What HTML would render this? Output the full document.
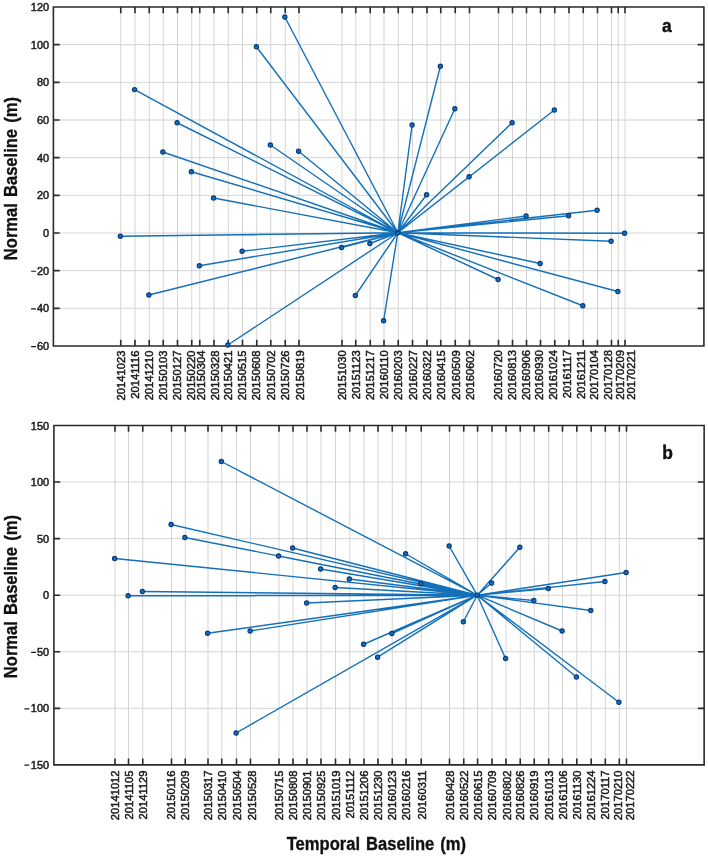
<!DOCTYPE html>
<html><head><meta charset="utf-8"><title>Baseline plots</title>
<style>
html,body{margin:0;padding:0;background:#fff;}
body{width:708px;height:857px;overflow:hidden;font-family:"Liberation Sans",sans-serif;}
svg{display:block;will-change:transform;}
</style></head><body>
<svg width="708" height="857" viewBox="0 0 708 857" font-family="'Liberation Sans', sans-serif">
<rect width="708" height="857" fill="#fff"/>
<path d="M120.75 7.00V346.00M135.00 7.00V346.00M149.25 7.00V346.00M163.25 7.00V346.00M177.50 7.00V346.00M191.75 7.00V346.00M199.75 7.00V346.00M214.00 7.00V346.00M228.25 7.00V346.00M242.50 7.00V346.00M256.75 7.00V346.00M270.75 7.00V346.00M285.25 7.00V346.00M299.00 7.00V346.00M342.00 7.00V346.00M355.75 7.00V346.00M370.25 7.00V346.00M384.00 7.00V346.00M398.25 7.00V346.00M412.50 7.00V346.00M427.00 7.00V346.00M440.75 7.00V346.00M455.25 7.00V346.00M469.50 7.00V346.00M498.50 7.00V346.00M512.50 7.00V346.00M526.50 7.00V346.00M540.50 7.00V346.00M554.75 7.00V346.00M569.00 7.00V346.00M583.25 7.00V346.00M597.50 7.00V346.00M611.50 7.00V346.00M618.25 7.00V346.00M625.00 7.00V346.00M53.40 44.67H703.90M53.40 82.33H703.90M53.40 120.00H703.90M53.40 157.67H703.90M53.40 195.33H703.90M53.40 233.00H703.90M53.40 270.67H703.90M53.40 308.33H703.90" stroke="#d4d4d4" stroke-width="1" fill="none"/>
<path d="M53.40 7.00H703.90V346.00H53.40ZM120.75 346.00v-6.3M120.75 7.00v6.3M135.00 346.00v-6.3M135.00 7.00v6.3M149.25 346.00v-6.3M149.25 7.00v6.3M163.25 346.00v-6.3M163.25 7.00v6.3M177.50 346.00v-6.3M177.50 7.00v6.3M191.75 346.00v-6.3M191.75 7.00v6.3M199.75 346.00v-6.3M199.75 7.00v6.3M214.00 346.00v-6.3M214.00 7.00v6.3M228.25 346.00v-6.3M228.25 7.00v6.3M242.50 346.00v-6.3M242.50 7.00v6.3M256.75 346.00v-6.3M256.75 7.00v6.3M270.75 346.00v-6.3M270.75 7.00v6.3M285.25 346.00v-6.3M285.25 7.00v6.3M299.00 346.00v-6.3M299.00 7.00v6.3M342.00 346.00v-6.3M342.00 7.00v6.3M355.75 346.00v-6.3M355.75 7.00v6.3M370.25 346.00v-6.3M370.25 7.00v6.3M384.00 346.00v-6.3M384.00 7.00v6.3M398.25 346.00v-6.3M398.25 7.00v6.3M412.50 346.00v-6.3M412.50 7.00v6.3M427.00 346.00v-6.3M427.00 7.00v6.3M440.75 346.00v-6.3M440.75 7.00v6.3M455.25 346.00v-6.3M455.25 7.00v6.3M469.50 346.00v-6.3M469.50 7.00v6.3M498.50 346.00v-6.3M498.50 7.00v6.3M512.50 346.00v-6.3M512.50 7.00v6.3M526.50 346.00v-6.3M526.50 7.00v6.3M540.50 346.00v-6.3M540.50 7.00v6.3M554.75 346.00v-6.3M554.75 7.00v6.3M569.00 346.00v-6.3M569.00 7.00v6.3M583.25 346.00v-6.3M583.25 7.00v6.3M597.50 346.00v-6.3M597.50 7.00v6.3M611.50 346.00v-6.3M611.50 7.00v6.3M618.25 346.00v-6.3M618.25 7.00v6.3M625.00 346.00v-6.3M625.00 7.00v6.3M53.40 44.67h6.3M703.90 44.67h-6.3M53.40 82.33h6.3M703.90 82.33h-6.3M53.40 120.00h6.3M703.90 120.00h-6.3M53.40 157.67h6.3M703.90 157.67h-6.3M53.40 195.33h6.3M703.90 195.33h-6.3M53.40 233.00h6.3M703.90 233.00h-6.3M53.40 270.67h6.3M703.90 270.67h-6.3M53.40 308.33h6.3M703.90 308.33h-6.3" stroke="#2a2a2a" stroke-width="1.6" fill="none" stroke-linejoin="miter"/>
<path d="M397.85 232.75L120.35 236.25M397.85 232.75L134.60 89.60M397.85 232.75L148.85 295.00M397.85 232.75L162.85 152.00M397.85 232.75L177.10 122.75M397.85 232.75L191.35 171.75M397.85 232.75L199.35 265.75M397.85 232.75L213.60 198.00M397.85 232.75L227.85 345.00M397.85 232.75L242.10 251.25M397.85 232.75L256.35 46.75M397.85 232.75L270.35 145.00M397.85 232.75L284.85 17.00M397.85 232.75L298.60 151.25M397.85 232.75L341.60 247.50M397.85 232.75L355.35 295.50M397.85 232.75L369.85 243.50M397.85 232.75L383.60 320.75M397.85 232.75L412.10 125.00M397.85 232.75L426.60 194.75M397.85 232.75L440.35 66.25M397.85 232.75L454.85 108.75M397.85 232.75L469.10 176.75M397.85 232.75L498.10 279.50M397.85 232.75L512.10 122.75M397.85 232.75L526.10 216.00M397.85 232.75L540.10 263.50M397.85 232.75L554.35 110.00M397.85 232.75L568.60 215.75M397.85 232.75L582.85 305.75M397.85 232.75L597.10 210.25M397.85 232.75L611.10 241.25M397.85 232.75L617.85 291.50M397.85 232.75L624.60 233.25" stroke="#1470b8" stroke-width="1.4" fill="none" stroke-linecap="round"/>
<g fill="#0a6fd2" stroke="#0b3a70" stroke-width="1.1"><circle cx="120.35" cy="236.25" r="2.15"/><circle cx="134.60" cy="89.60" r="2.15"/><circle cx="148.85" cy="295.00" r="2.15"/><circle cx="162.85" cy="152.00" r="2.15"/><circle cx="177.10" cy="122.75" r="2.15"/><circle cx="191.35" cy="171.75" r="2.15"/><circle cx="199.35" cy="265.75" r="2.15"/><circle cx="213.60" cy="198.00" r="2.15"/><circle cx="227.85" cy="345.00" r="2.15"/><circle cx="242.10" cy="251.25" r="2.15"/><circle cx="256.35" cy="46.75" r="2.15"/><circle cx="270.35" cy="145.00" r="2.15"/><circle cx="284.85" cy="17.00" r="2.15"/><circle cx="298.60" cy="151.25" r="2.15"/><circle cx="341.60" cy="247.50" r="2.15"/><circle cx="355.35" cy="295.50" r="2.15"/><circle cx="369.85" cy="243.50" r="2.15"/><circle cx="383.60" cy="320.75" r="2.15"/><circle cx="412.10" cy="125.00" r="2.15"/><circle cx="426.60" cy="194.75" r="2.15"/><circle cx="440.35" cy="66.25" r="2.15"/><circle cx="454.85" cy="108.75" r="2.15"/><circle cx="469.10" cy="176.75" r="2.15"/><circle cx="498.10" cy="279.50" r="2.15"/><circle cx="512.10" cy="122.75" r="2.15"/><circle cx="526.10" cy="216.00" r="2.15"/><circle cx="540.10" cy="263.50" r="2.15"/><circle cx="554.35" cy="110.00" r="2.15"/><circle cx="568.60" cy="215.75" r="2.15"/><circle cx="582.85" cy="305.75" r="2.15"/><circle cx="597.10" cy="210.25" r="2.15"/><circle cx="611.10" cy="241.25" r="2.15"/><circle cx="617.85" cy="291.50" r="2.15"/><circle cx="624.60" cy="233.25" r="2.15"/><circle cx="397.85" cy="232.75" r="2.15" fill="#1470b8"/></g>
<g font-size="11.2" text-anchor="end" fill="#1a1a1a" stroke="#1a1a1a" stroke-width="0.5"><text transform="translate(49.10 11.00) scale(0.98 1)">120</text><text transform="translate(49.10 48.67) scale(0.98 1)">100</text><text transform="translate(49.10 86.33) scale(0.98 1)">80</text><text transform="translate(49.10 124.00) scale(0.98 1)">60</text><text transform="translate(49.10 161.67) scale(0.98 1)">40</text><text transform="translate(49.10 199.33) scale(0.98 1)">20</text><text transform="translate(49.10 237.00) scale(0.98 1)">0</text><text transform="translate(49.10 274.67) scale(0.98 1)">20</text><text transform="translate(49.10 312.33) scale(0.98 1)">40</text><text transform="translate(49.10 350.00) scale(0.98 1)">60</text></g>
<path d="M31.09 271.22H35.99M31.09 308.88H35.99M31.09 346.55H35.99" stroke="#1a1a1a" stroke-width="1.15" fill="none"/>
<g font-size="11.2" text-anchor="end" fill="#1a1a1a" stroke="#1a1a1a" stroke-width="0.5"><text transform="translate(125.25 350.60) rotate(-90)">20141023</text><text transform="translate(139.00 350.58) rotate(-90)">20141116</text><text transform="translate(153.25 350.57) rotate(-90)">20141210</text><text transform="translate(167.25 350.55) rotate(-90)">20150103</text><text transform="translate(181.00 350.53) rotate(-90)">20150127</text><text transform="translate(194.50 350.52) rotate(-90)">20150220</text><text transform="translate(204.75 350.50) rotate(-90)">20150304</text><text transform="translate(218.50 350.49) rotate(-90)">20150328</text><text transform="translate(232.00 350.47) rotate(-90)">20150421</text><text transform="translate(246.00 350.46) rotate(-90)">20150515</text><text transform="translate(260.25 350.44) rotate(-90)">20150608</text><text transform="translate(274.75 350.42) rotate(-90)">20150702</text><text transform="translate(289.25 350.41) rotate(-90)">20150726</text><text transform="translate(304.00 350.39) rotate(-90)">20150819</text><text transform="translate(345.50 350.34) rotate(-90)">20151030</text><text transform="translate(359.75 350.32) rotate(-90)">20151123</text><text transform="translate(374.00 350.31) rotate(-90)">20151217</text><text transform="translate(388.25 350.29) rotate(-90)">20160110</text><text transform="translate(402.25 350.27) rotate(-90)">20160203</text><text transform="translate(416.50 350.26) rotate(-90)">20160227</text><text transform="translate(431.00 350.24) rotate(-90)">20160322</text><text transform="translate(445.25 350.22) rotate(-90)">20160415</text><text transform="translate(459.50 350.21) rotate(-90)">20160509</text><text transform="translate(474.00 350.19) rotate(-90)">20160602</text><text transform="translate(502.00 350.16) rotate(-90)">20160720</text><text transform="translate(515.75 350.14) rotate(-90)">20160813</text><text transform="translate(529.50 350.12) rotate(-90)">20160906</text><text transform="translate(543.25 350.11) rotate(-90)">20160930</text><text transform="translate(557.30 350.09) rotate(-90)">20161024</text><text transform="translate(571.30 350.07) rotate(-90)">20161117</text><text transform="translate(585.30 350.06) rotate(-90)">20161211</text><text transform="translate(598.20 350.04) rotate(-90)">20170104</text><text transform="translate(612.10 350.03) rotate(-90)">20170128</text><text transform="translate(624.00 350.01) rotate(-90)">20170209</text><text transform="translate(634.50 350.00) rotate(-90)">20170221</text></g>
<text transform="translate(17.40 178.60) rotate(-90) scale(0.895 1)" font-size="18.5" font-weight="bold" word-spacing="1.7" text-anchor="middle" fill="#111" stroke="#111" stroke-width="0.35">Normal Baseline (m)</text>
<text transform="translate(666.9 32.2) scale(0.92 1)" font-size="19" font-weight="bold" text-anchor="middle" fill="#111" stroke="#111" stroke-width="0.45">a</text>
<path d="M115.00 425.50V764.90M128.50 425.50V764.90M142.75 425.50V764.90M171.50 425.50V764.90M185.25 425.50V764.90M208.00 425.50V764.90M221.75 425.50V764.90M236.50 425.50V764.90M250.50 425.50V764.90M279.00 425.50V764.90M293.00 425.50V764.90M307.00 425.50V764.90M321.00 425.50V764.90M335.50 425.50V764.90M349.75 425.50V764.90M364.00 425.50V764.90M378.00 425.50V764.90M392.25 425.50V764.90M406.00 425.50V764.90M421.25 425.50V764.90M449.50 425.50V764.90M463.75 425.50V764.90M477.60 425.50V764.90M492.00 425.50V764.90M506.00 425.50V764.90M520.25 425.50V764.90M534.25 425.50V764.90M548.70 425.50V764.90M562.50 425.50V764.90M576.80 425.50V764.90M591.20 425.50V764.90M605.30 425.50V764.90M619.30 425.50V764.90M626.50 425.50V764.90M53.90 482.07H704.15M53.90 538.63H704.15M53.90 595.20H704.15M53.90 651.77H704.15M53.90 708.33H704.15" stroke="#d4d4d4" stroke-width="1" fill="none"/>
<path d="M53.90 425.50H704.15V764.90H53.90ZM115.00 764.90v-6.3M115.00 425.50v6.3M128.50 764.90v-6.3M128.50 425.50v6.3M142.75 764.90v-6.3M142.75 425.50v6.3M171.50 764.90v-6.3M171.50 425.50v6.3M185.25 764.90v-6.3M185.25 425.50v6.3M208.00 764.90v-6.3M208.00 425.50v6.3M221.75 764.90v-6.3M221.75 425.50v6.3M236.50 764.90v-6.3M236.50 425.50v6.3M250.50 764.90v-6.3M250.50 425.50v6.3M279.00 764.90v-6.3M279.00 425.50v6.3M293.00 764.90v-6.3M293.00 425.50v6.3M307.00 764.90v-6.3M307.00 425.50v6.3M321.00 764.90v-6.3M321.00 425.50v6.3M335.50 764.90v-6.3M335.50 425.50v6.3M349.75 764.90v-6.3M349.75 425.50v6.3M364.00 764.90v-6.3M364.00 425.50v6.3M378.00 764.90v-6.3M378.00 425.50v6.3M392.25 764.90v-6.3M392.25 425.50v6.3M406.00 764.90v-6.3M406.00 425.50v6.3M421.25 764.90v-6.3M421.25 425.50v6.3M449.50 764.90v-6.3M449.50 425.50v6.3M463.75 764.90v-6.3M463.75 425.50v6.3M477.60 764.90v-6.3M477.60 425.50v6.3M492.00 764.90v-6.3M492.00 425.50v6.3M506.00 764.90v-6.3M506.00 425.50v6.3M520.25 764.90v-6.3M520.25 425.50v6.3M534.25 764.90v-6.3M534.25 425.50v6.3M548.70 764.90v-6.3M548.70 425.50v6.3M562.50 764.90v-6.3M562.50 425.50v6.3M576.80 764.90v-6.3M576.80 425.50v6.3M591.20 764.90v-6.3M591.20 425.50v6.3M605.30 764.90v-6.3M605.30 425.50v6.3M619.30 764.90v-6.3M619.30 425.50v6.3M626.50 764.90v-6.3M626.50 425.50v6.3M53.90 482.07h6.3M704.15 482.07h-6.3M53.90 538.63h6.3M704.15 538.63h-6.3M53.90 595.20h6.3M704.15 595.20h-6.3M53.90 651.77h6.3M704.15 651.77h-6.3M53.90 708.33h6.3M704.15 708.33h-6.3" stroke="#2a2a2a" stroke-width="1.6" fill="none" stroke-linejoin="miter"/>
<path d="M477.20 595.20L114.60 558.50M477.20 595.20L128.10 595.75M477.20 595.20L142.35 591.50M477.20 595.20L171.10 524.50M477.20 595.20L184.85 537.50M477.20 595.20L207.60 633.25M477.20 595.20L221.35 461.50M477.20 595.20L236.10 733.00M477.20 595.20L250.10 631.00M477.20 595.20L278.60 556.00M477.20 595.20L292.60 548.00M477.20 595.20L306.60 603.00M477.20 595.20L320.60 569.00M477.20 595.20L335.10 587.50M477.20 595.20L349.35 579.00M477.20 595.20L363.60 644.25M477.20 595.20L377.60 657.20M477.20 595.20L391.85 633.50M477.20 595.20L405.60 553.75M477.20 595.20L420.85 583.50M477.20 595.20L449.10 546.00M477.20 595.20L463.35 621.75M477.20 595.20L491.60 583.00M477.20 595.20L505.60 658.50M477.20 595.20L519.85 547.25M477.20 595.20L533.85 600.50M477.20 595.20L548.30 588.50M477.20 595.20L562.10 631.00M477.20 595.20L576.40 677.00M477.20 595.20L590.80 610.50M477.20 595.20L604.90 581.50M477.20 595.20L618.90 702.25M477.20 595.20L626.10 572.50" stroke="#1470b8" stroke-width="1.4" fill="none" stroke-linecap="round"/>
<g fill="#0a6fd2" stroke="#0b3a70" stroke-width="1.1"><circle cx="114.60" cy="558.50" r="2.15"/><circle cx="128.10" cy="595.75" r="2.15"/><circle cx="142.35" cy="591.50" r="2.15"/><circle cx="171.10" cy="524.50" r="2.15"/><circle cx="184.85" cy="537.50" r="2.15"/><circle cx="207.60" cy="633.25" r="2.15"/><circle cx="221.35" cy="461.50" r="2.15"/><circle cx="236.10" cy="733.00" r="2.15"/><circle cx="250.10" cy="631.00" r="2.15"/><circle cx="278.60" cy="556.00" r="2.15"/><circle cx="292.60" cy="548.00" r="2.15"/><circle cx="306.60" cy="603.00" r="2.15"/><circle cx="320.60" cy="569.00" r="2.15"/><circle cx="335.10" cy="587.50" r="2.15"/><circle cx="349.35" cy="579.00" r="2.15"/><circle cx="363.60" cy="644.25" r="2.15"/><circle cx="377.60" cy="657.20" r="2.15"/><circle cx="391.85" cy="633.50" r="2.15"/><circle cx="405.60" cy="553.75" r="2.15"/><circle cx="420.85" cy="583.50" r="2.15" fill="#1470b8"/><circle cx="449.10" cy="546.00" r="2.15"/><circle cx="463.35" cy="621.75" r="2.15"/><circle cx="491.60" cy="583.00" r="2.15"/><circle cx="505.60" cy="658.50" r="2.15"/><circle cx="519.85" cy="547.25" r="2.15"/><circle cx="533.85" cy="600.50" r="2.15"/><circle cx="548.30" cy="588.50" r="2.15"/><circle cx="562.10" cy="631.00" r="2.15"/><circle cx="576.40" cy="677.00" r="2.15"/><circle cx="590.80" cy="610.50" r="2.15"/><circle cx="604.90" cy="581.50" r="2.15"/><circle cx="618.90" cy="702.25" r="2.15"/><circle cx="626.10" cy="572.50" r="2.15"/><circle cx="477.20" cy="595.20" r="2.15" fill="#1470b8"/></g>
<g font-size="11.2" text-anchor="end" fill="#1a1a1a" stroke="#1a1a1a" stroke-width="0.5"><text transform="translate(49.10 430.10) scale(0.98 1)">150</text><text transform="translate(49.10 486.07) scale(0.98 1)">100</text><text transform="translate(49.10 542.63) scale(0.98 1)">50</text><text transform="translate(49.10 599.20) scale(0.98 1)">0</text><text transform="translate(49.10 655.77) scale(0.98 1)">50</text><text transform="translate(49.10 712.33) scale(0.98 1)">100</text><text transform="translate(49.10 768.60) scale(0.98 1)">150</text></g>
<path d="M31.09 652.32H35.99M24.39 708.88H29.29M24.39 765.15H29.29" stroke="#1a1a1a" stroke-width="1.15" fill="none"/>
<g font-size="11.2" text-anchor="end" fill="#1a1a1a" stroke="#1a1a1a" stroke-width="0.5"><text transform="translate(119.00 770.45) rotate(-90)">20141012</text><text transform="translate(132.50 770.45) rotate(-90)">20141105</text><text transform="translate(146.75 770.45) rotate(-90)">20141129</text><text transform="translate(174.50 770.45) rotate(-90)">20150116</text><text transform="translate(189.25 770.45) rotate(-90)">20150209</text><text transform="translate(211.50 770.45) rotate(-90)">20150317</text><text transform="translate(225.75 770.45) rotate(-90)">20150410</text><text transform="translate(240.50 770.45) rotate(-90)">20150504</text><text transform="translate(255.75 770.45) rotate(-90)">20150528</text><text transform="translate(282.50 770.45) rotate(-90)">20150715</text><text transform="translate(297.00 770.45) rotate(-90)">20150808</text><text transform="translate(311.00 770.45) rotate(-90)">20150901</text><text transform="translate(325.00 770.45) rotate(-90)">20150925</text><text transform="translate(339.50 770.45) rotate(-90)">20151019</text><text transform="translate(353.75 770.45) rotate(-90)">20151112</text><text transform="translate(368.00 770.45) rotate(-90)">20151206</text><text transform="translate(382.00 770.45) rotate(-90)">20151230</text><text transform="translate(396.25 770.45) rotate(-90)">20160123</text><text transform="translate(410.00 770.45) rotate(-90)">20160216</text><text transform="translate(425.75 770.45) rotate(-90)">20160311</text><text transform="translate(453.50 770.45) rotate(-90)">20160428</text><text transform="translate(467.75 770.45) rotate(-90)">20160522</text><text transform="translate(481.60 770.45) rotate(-90)">20160615</text><text transform="translate(496.00 770.45) rotate(-90)">20160709</text><text transform="translate(511.30 770.45) rotate(-90)">20160802</text><text transform="translate(524.25 770.45) rotate(-90)">20160826</text><text transform="translate(538.25 770.45) rotate(-90)">20160919</text><text transform="translate(552.70 770.45) rotate(-90)">20161013</text><text transform="translate(566.50 770.45) rotate(-90)">20161106</text><text transform="translate(580.80 770.45) rotate(-90)">20161130</text><text transform="translate(594.70 770.45) rotate(-90)">20161224</text><text transform="translate(608.80 770.45) rotate(-90)">20170117</text><text transform="translate(621.80 770.45) rotate(-90)">20170210</text><text transform="translate(633.50 770.45) rotate(-90)">20170222</text></g>
<text transform="translate(16.60 596.60) rotate(-90) scale(0.895 1)" font-size="18.5" font-weight="bold" word-spacing="1.7" text-anchor="middle" fill="#111" stroke="#111" stroke-width="0.35">Normal Baseline (m)</text>
<text transform="translate(667.6 458.6) scale(0.92 1)" font-size="19" font-weight="bold" text-anchor="middle" fill="#111" stroke="#111" stroke-width="0.45">b</text>
<rect x="663.3" y="444.3" width="2.55" height="2.6" fill="#111"/>
<text transform="translate(376.4 849.7) scale(0.895 1)" font-size="18.5" font-weight="bold" word-spacing="1.7" text-anchor="middle" fill="#111" stroke="#111" stroke-width="0.35">Temporal Baseline (m)</text>
</svg>
</body></html>
